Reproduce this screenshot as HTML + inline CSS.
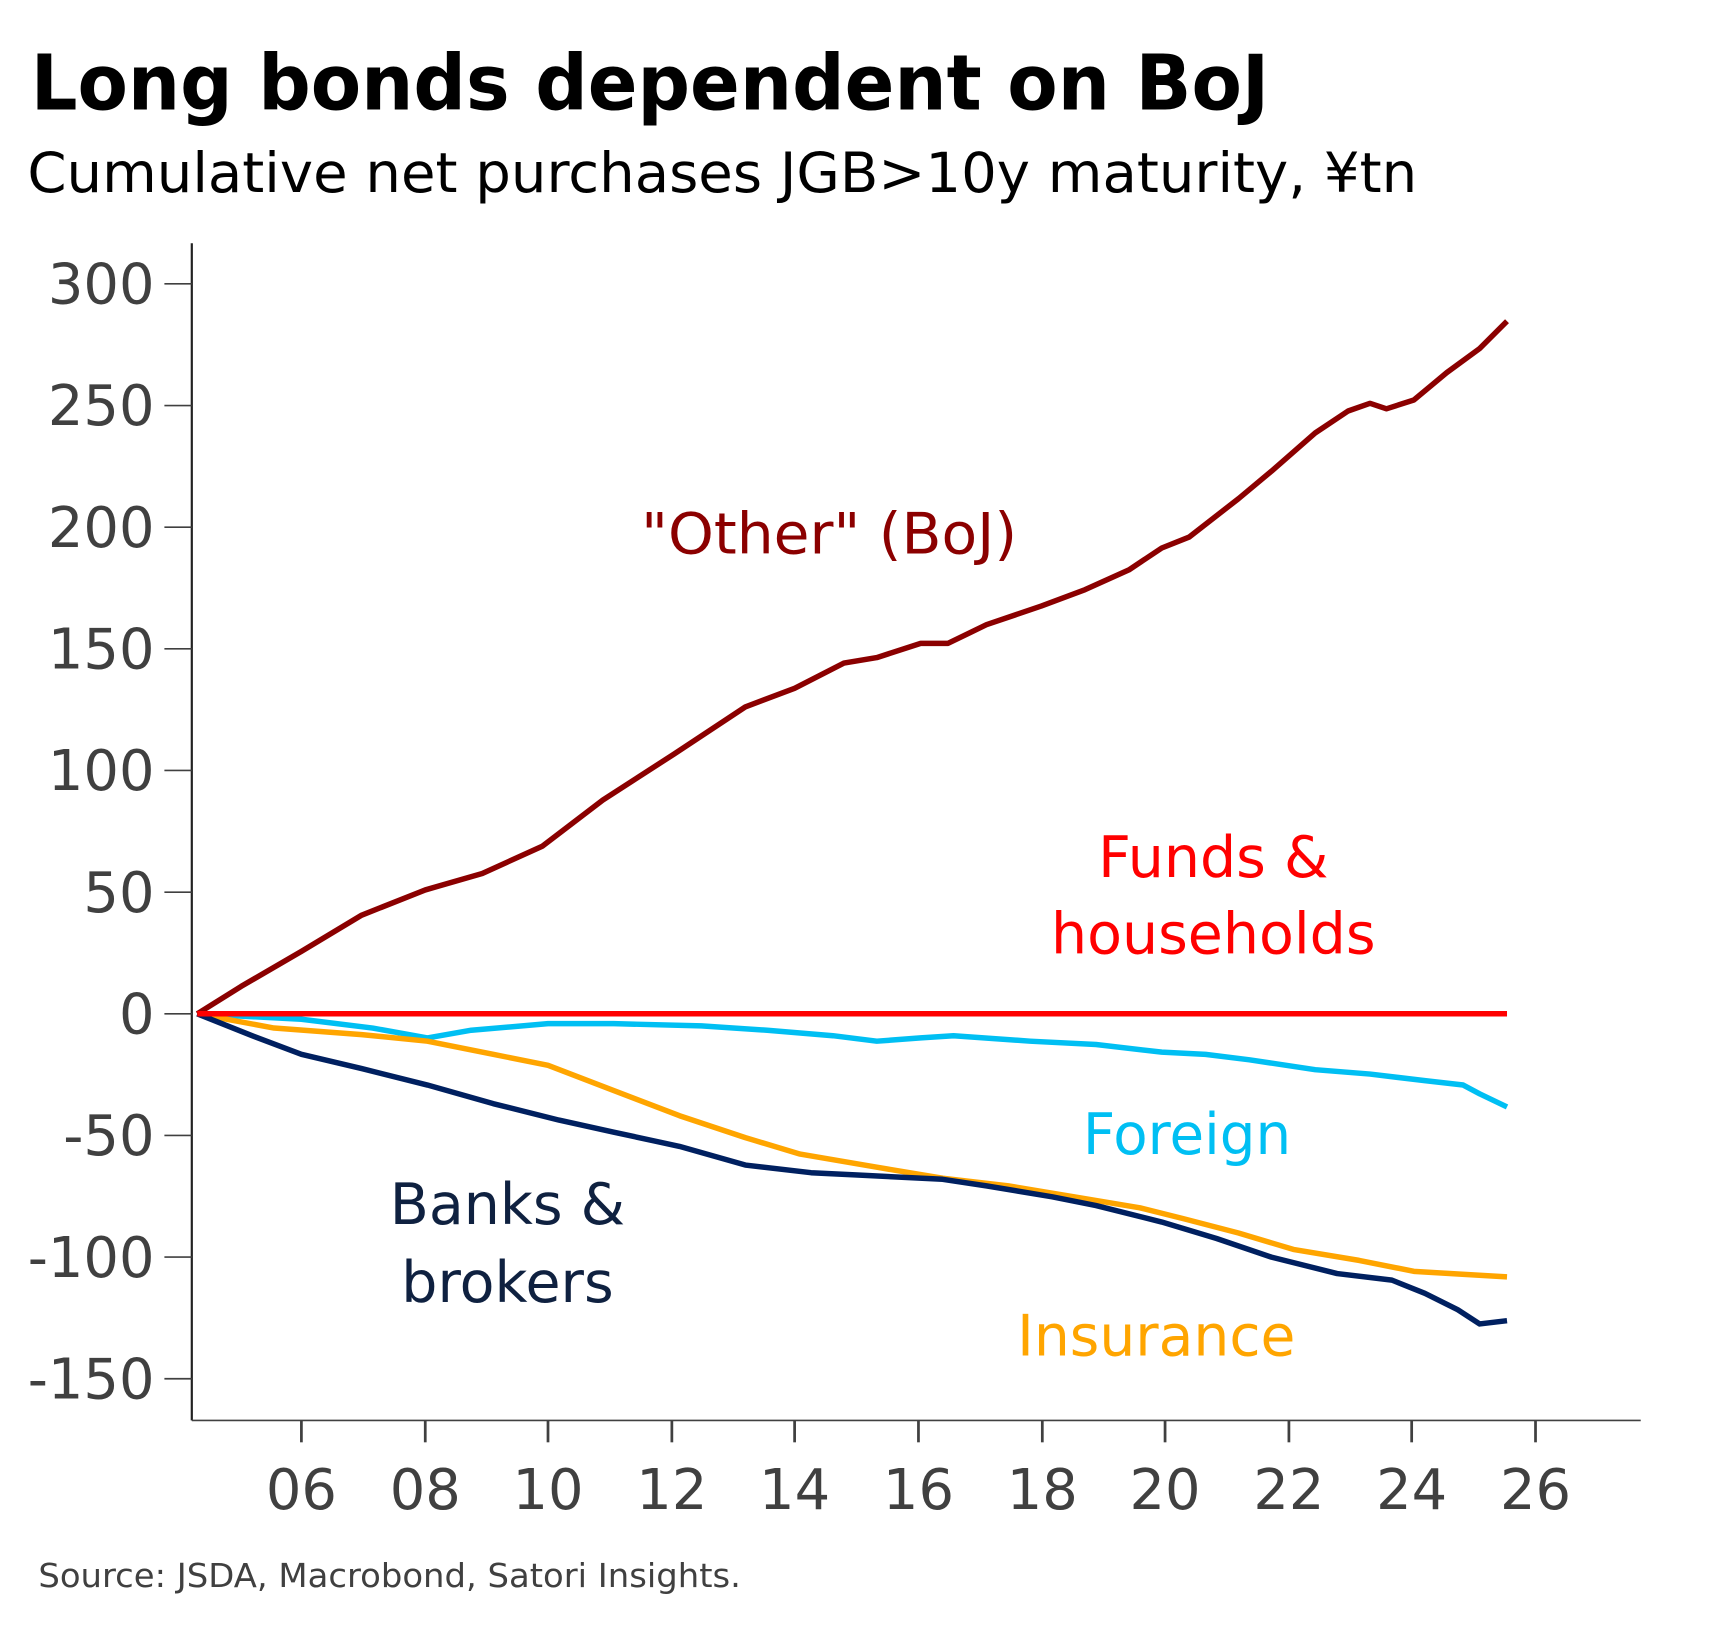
<!DOCTYPE html>
<html><head><meta charset="utf-8"><style>html,body{margin:0;padding:0;background:#fff}svg{display:block}</style></head>
<body>
<svg width="1718" height="1635" viewBox="0 0 1567.5 1491.8" preserveAspectRatio="none" xmlns="http://www.w3.org/2000/svg" font-family="'DejaVu Sans','Liberation Sans',sans-serif">
<rect width="1567.5" height="1491.8" fill="#fff"/>
<text x="28" y="100" font-size="70" font-weight="bold" fill="#000" textLength="1130" lengthAdjust="spacingAndGlyphs">Long bonds dependent on BoJ</text>
<text x="25" y="175" font-size="50" fill="#000" textLength="1268" lengthAdjust="spacingAndGlyphs">Cumulative net purchases JGB&gt;10y maturity, ¥tn</text>
<g stroke="#404040" stroke-width="1.5">
<line x1="175" y1="222" x2="175" y2="1296" stroke="#222" stroke-width="2"/>
<line x1="175" y1="1296" x2="1497" y2="1296"/>
<line x1="150" y1="259" x2="175" y2="259"/><line x1="150" y1="370" x2="175" y2="370"/>
<line x1="150" y1="481" x2="175" y2="481"/><line x1="150" y1="592" x2="175" y2="592"/>
<line x1="150" y1="703" x2="175" y2="703"/><line x1="150" y1="814" x2="175" y2="814"/>
<line x1="150" y1="925" x2="175" y2="925"/><line x1="150" y1="1036" x2="175" y2="1036"/>
<line x1="150" y1="1147" x2="175" y2="1147"/><line x1="150" y1="1258" x2="175" y2="1258"/>
<g stroke-width="2.5">
<line x1="275" y1="1296" x2="275" y2="1316"/><line x1="388" y1="1296" x2="388" y2="1316"/>
<line x1="500" y1="1296" x2="500" y2="1316"/><line x1="613" y1="1296" x2="613" y2="1316"/>
<line x1="725" y1="1296" x2="725" y2="1316"/><line x1="838" y1="1296" x2="838" y2="1316"/>
<line x1="951" y1="1296" x2="951" y2="1316"/><line x1="1063" y1="1296" x2="1063" y2="1316"/>
<line x1="1176" y1="1296" x2="1176" y2="1316"/><line x1="1288" y1="1296" x2="1288" y2="1316"/>
<line x1="1401" y1="1296" x2="1401" y2="1316"/></g>
</g>
<g font-size="51" fill="#404040" text-anchor="end">
<text x="141" y="277">300</text><text x="141" y="388">250</text><text x="141" y="499">200</text>
<text x="141" y="610">150</text><text x="141" y="721">100</text><text x="141" y="832">50</text>
<text x="141" y="943">0</text><text x="141" y="1054">-50</text><text x="141" y="1165">-100</text>
<text x="141" y="1276">-150</text></g>
<g font-size="51" fill="#404040" text-anchor="middle">
<text x="275" y="1377">06</text><text x="388" y="1377">08</text><text x="500" y="1377">10</text>
<text x="613" y="1377">12</text><text x="725" y="1377">14</text><text x="838" y="1377">16</text>
<text x="951" y="1377">18</text><text x="1063" y="1377">20</text><text x="1176" y="1377">22</text>
<text x="1288" y="1377">24</text><text x="1401" y="1377">26</text></g>
<text x="35" y="1448" font-size="30" fill="#404040" textLength="641" lengthAdjust="spacingAndGlyphs">Source: JSDA, Macrobond, Satori Insights.</text>
<g fill="none" stroke-width="5" stroke-linejoin="round">
<polyline stroke="#00BFF3" points="180,925 275,930 340,938 390,947 430,940 500,934 560,934 640,936 700,940 760,945 800,950 840,947 870,945 940,950 1000,953 1060,960 1100,962 1140,967 1200,976 1250,980 1300,986 1335,990 1350,998 1375,1010"/>
<polyline stroke="#FFA500" points="180,925 250,938 330,944 390,950 450,962 500,972 560,995 620,1018 680,1038 730,1053 800,1065 860,1075 920,1082 980,1092 1040,1102 1080,1112 1130,1125 1180,1140 1240,1150 1290,1160 1340,1163 1375,1165"/>
<polyline stroke="#002060" points="180,925 230,945 275,962 330,975 390,990 450,1007 510,1022 560,1033 620,1046 680,1063 740,1070 780,1072 860,1076 900,1082 960,1092 1000,1100 1060,1115 1110,1130 1160,1147 1220,1162 1270,1168 1300,1180 1330,1195 1350,1208 1375,1205"/>
<polyline stroke="#8B0000" points="180,925 220,900 275,868 330,835 388,812 440,797 495,772 550,730 615,688 680,645 725,628 770,605 800,600 840,587 865,587 900,570 950,553 990,538 1030,520 1060,500 1085,490 1130,455 1160,430 1200,395 1230,375 1250,368 1265,373 1290,365 1320,340 1350,318 1375,293"/>
<polyline stroke="#FF0000" points="180,925 1375,925"/>
</g>
<g font-size="52">
<text x="585" y="505" fill="#8B0000" textLength="343" lengthAdjust="spacingAndGlyphs">"Other" (BoJ)</text>
<text x="1107" y="800" fill="#FF0000" text-anchor="middle">Funds &amp;</text>
<text x="1107" y="870" fill="#FF0000" text-anchor="middle">households</text>
<text x="988" y="1053" fill="#00BFF3" textLength="190" lengthAdjust="spacingAndGlyphs">Foreign</text>
<text x="463" y="1117" fill="#0F2140" text-anchor="middle">Banks &amp;</text>
<text x="463" y="1188" fill="#0F2140" text-anchor="middle">brokers</text>
<text x="928" y="1237" fill="#FFA500" textLength="254" lengthAdjust="spacingAndGlyphs">Insurance</text>
</g>
</svg>
</body></html>
